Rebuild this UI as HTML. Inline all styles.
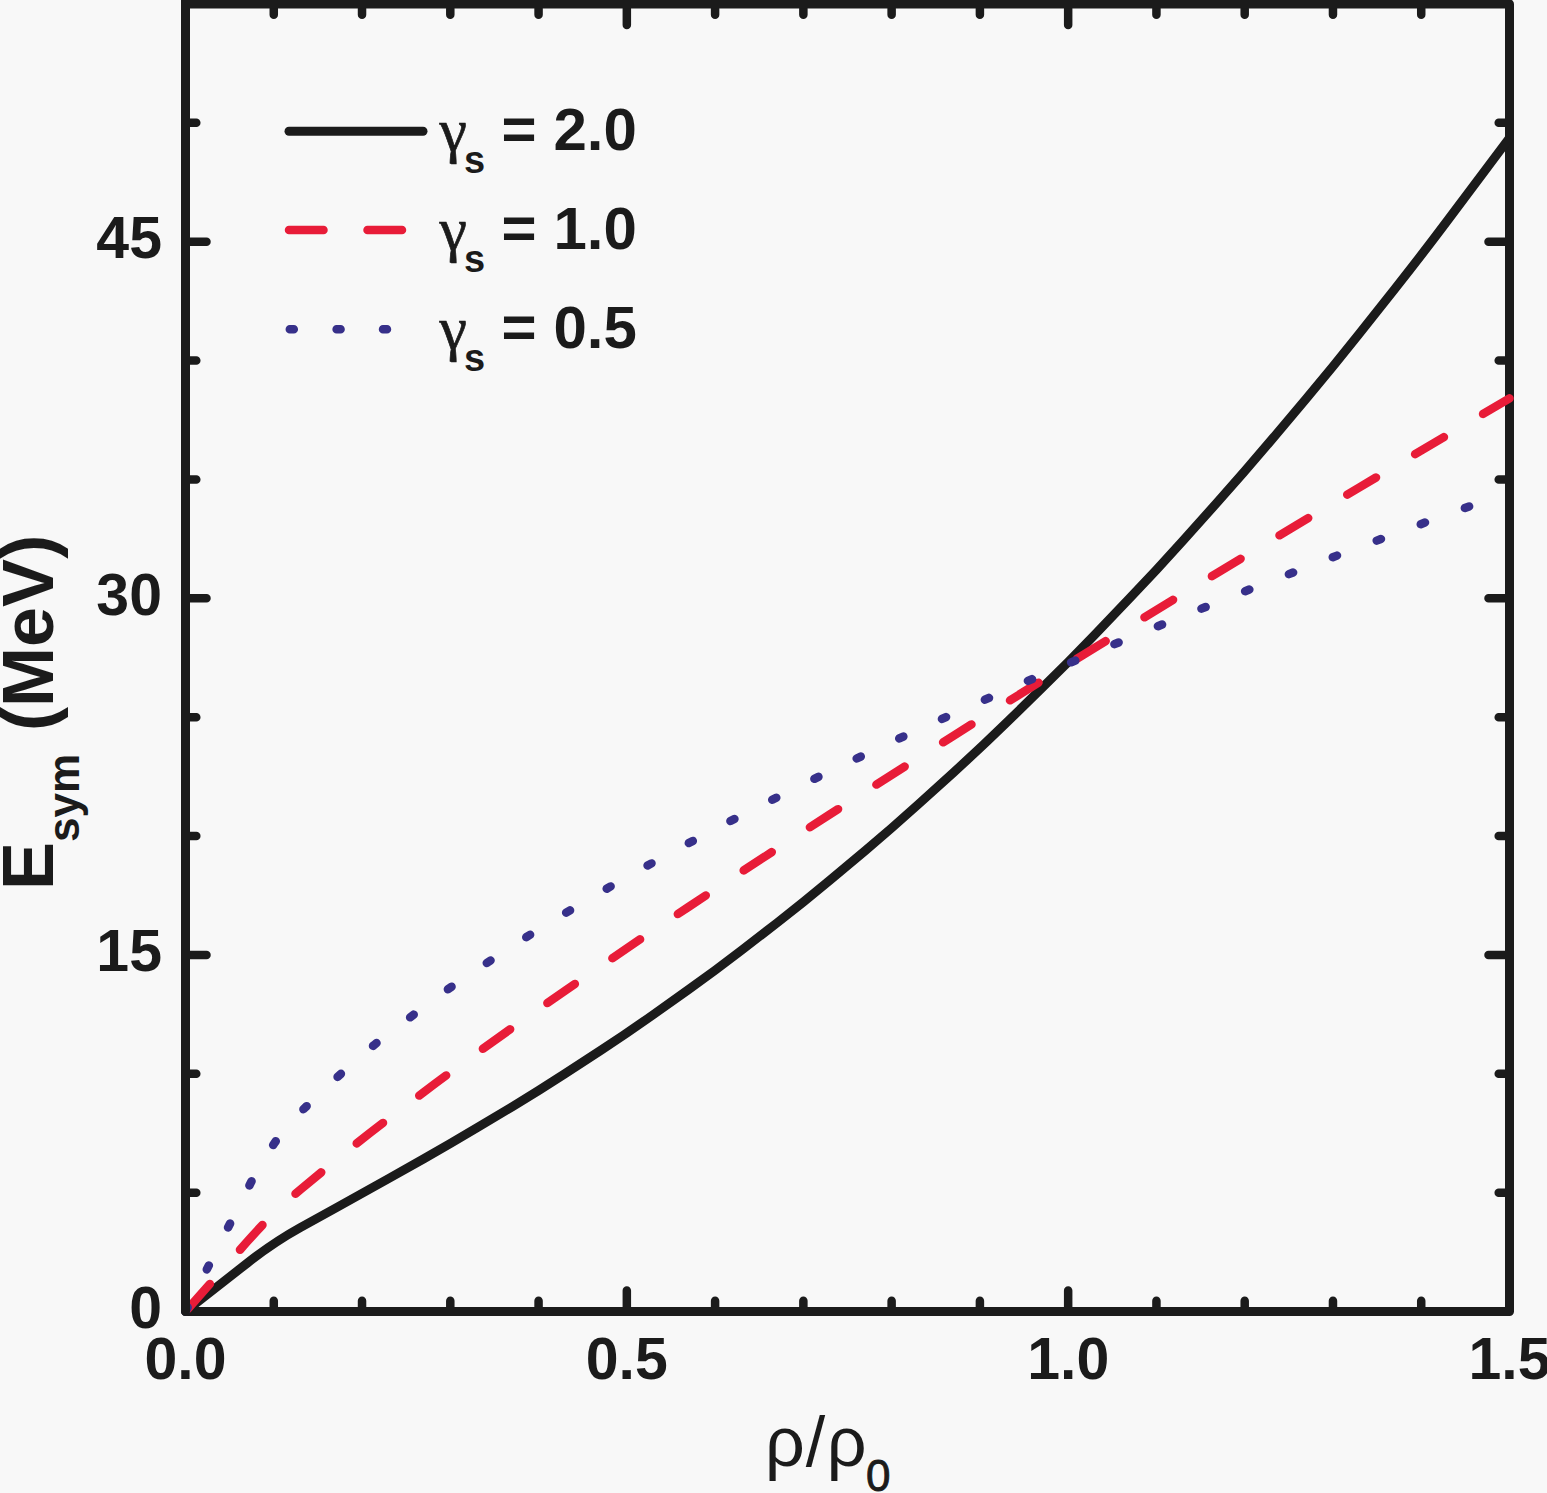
<!DOCTYPE html><html lang="en"><head><meta charset="utf-8"><title>Esym</title><style>
html,body{margin:0;padding:0;background:#f8f8f8;}
body{width:1547px;height:1493px;position:relative;overflow:hidden;font-family:"Liberation Sans",sans-serif;color:#1b1b1b;}
.t{position:absolute;white-space:nowrap;font-weight:bold;line-height:1;}
.tk{font-size:59px;}
.yl{text-align:right;width:120px;left:42px;}
.xl{text-align:center;width:200px;}
.lg{font-size:60px;left:438px;}
.lg .g{font-family:"Liberation Serif",serif;font-weight:normal;font-size:62px;-webkit-text-stroke:0.7px #1b1b1b;}
.lg sub{font-size:40px;vertical-align:baseline;position:relative;top:20px;}
</style></head><body>
<svg width="1547" height="1493" viewBox="0 0 1547 1493" style="position:absolute;left:0;top:0">
<rect width="1547" height="1493" fill="#f8f8f8"/>
<defs><clipPath id="cb"><rect x="0" y="0" width="1500" height="1493"/></clipPath></defs>
<path d="M273.77,1307.00V1300.70M273.77,8.50V14.80M362.03,1307.00V1300.70M362.03,8.50V14.80M450.30,1307.00V1300.70M450.30,8.50V14.80M538.57,1307.00V1300.70M538.57,8.50V14.80M626.83,1307.00V1290.50M626.83,8.50V25.00M715.10,1307.00V1300.70M715.10,8.50V14.80M803.37,1307.00V1300.70M803.37,8.50V14.80M891.63,1307.00V1300.70M891.63,8.50V14.80M979.90,1307.00V1300.70M979.90,8.50V14.80M1068.17,1307.00V1290.50M1068.17,8.50V25.00M1156.43,1307.00V1300.70M1156.43,8.50V14.80M1244.70,1307.00V1300.70M1244.70,8.50V14.80M1332.97,1307.00V1300.70M1332.97,8.50V14.80M1421.23,1307.00V1300.70M1421.23,8.50V14.80M190.00,1192.64H196.30M1505.00,1192.64H1498.70M190.00,1073.77H196.30M1505.00,1073.77H1498.70M190.00,954.91H206.50M1505.00,954.91H1488.50M190.00,836.05H196.30M1505.00,836.05H1498.70M190.00,717.18H196.30M1505.00,717.18H1498.70M190.00,598.32H206.50M1505.00,598.32H1488.50M190.00,479.45H196.30M1505.00,479.45H1498.70M190.00,360.59H196.30M1505.00,360.59H1498.70M190.00,241.73H206.50M1505.00,241.73H1488.50M190.00,122.86H196.30M1505.00,122.86H1498.70" stroke="#1b1b1b" stroke-width="8.5" stroke-linecap="round" fill="none"/>
<rect x="185.5" y="4.0" width="1324.0" height="1307.5" fill="none" stroke="#1b1b1b" stroke-width="9" stroke-linejoin="round"/>
<path d="M185.50,1311.50L247.29,1263.09 Q273.77,1242.35 300.25,1227.67L335.55,1208.11 Q362.03,1193.43 388.51,1178.56L423.82,1158.73 Q450.30,1143.86 476.78,1127.96L512.09,1106.77 Q538.57,1090.88 565.05,1073.62L600.35,1050.62 Q626.83,1033.36 653.31,1014.56L688.62,989.49 Q715.10,970.69 741.58,950.23L776.89,922.95 Q803.37,902.49 829.85,880.29L865.15,850.70 Q891.63,828.50 918.11,804.52L953.42,772.54 Q979.90,748.55 1006.38,722.74L1041.69,688.32 Q1068.17,662.50 1094.65,634.83L1129.95,597.93 Q1156.43,570.26 1182.91,540.70L1218.22,501.29 Q1244.70,471.73 1271.18,440.27L1306.49,398.32 Q1332.97,366.85 1359.45,333.47L1394.75,288.96 Q1421.23,255.57 1447.71,220.26L1509.50,137.85" stroke="#1b1b1b" stroke-width="9" fill="none" stroke-linejoin="round"/>
<path d="M185.50,1311.50L247.29,1241.54 Q273.77,1211.56 300.25,1189.71L335.55,1160.57 Q362.03,1138.72 388.51,1118.74L423.82,1092.10 Q450.30,1072.12 476.78,1053.18L512.09,1027.93 Q538.57,1008.99 565.05,990.75L600.35,966.43 Q626.83,948.20 653.31,930.48L688.62,906.85 Q715.10,889.13 741.58,871.82L776.89,848.73 Q803.37,831.41 829.85,814.43L865.15,791.78 Q891.63,774.79 918.11,758.08L953.42,735.80 Q979.90,719.09 1006.38,702.61L1041.69,680.65 Q1068.17,664.17 1094.65,647.90L1129.95,626.20 Q1156.43,609.93 1182.91,593.83L1218.22,572.38 Q1244.70,556.28 1271.18,540.35L1306.49,519.11 Q1332.97,503.17 1359.45,487.38L1394.75,466.33 Q1421.23,450.54 1447.71,434.88L1509.50,398.34" stroke="#e81c38" stroke-width="8.5" fill="none" stroke-linecap="round" stroke-linejoin="round" stroke-dasharray="33.5 45.5" stroke-dashoffset="-3.25"/>
<path d="M185.50,1311.50L247.29,1189.57 Q273.77,1137.31 300.25,1112.25L335.55,1078.84 Q362.03,1053.78 388.51,1033.72L423.82,1006.98 Q450.30,986.92 476.78,969.54L512.09,946.35 Q538.57,928.96 565.05,913.31L600.35,892.44 Q626.83,876.79 653.31,862.40L688.62,843.20 Q715.10,828.81 741.58,815.38L776.89,797.47 Q803.37,784.03 829.85,771.37L865.15,754.49 Q891.63,741.83 918.11,729.81L953.42,713.77 Q979.90,701.75 1006.38,690.26L1041.69,674.94 Q1068.17,663.46 1094.65,652.43L1129.95,637.73 Q1156.43,626.70 1182.91,616.08L1218.22,601.92 Q1244.70,591.29 1271.18,581.03L1306.49,567.34 Q1332.97,557.07 1359.45,547.12L1394.75,533.86 Q1421.23,523.91 1447.71,514.24L1509.50,491.69" stroke="#37308a" clip-path="url(#cb)" stroke-width="8.5" fill="none" stroke-linecap="round" stroke-linejoin="round" stroke-dasharray="4.5 42.5" stroke-dashoffset="-0.15"/>
<path d="M185.5,-0.5V1311.5" stroke="#1b1b1b" stroke-width="9" stroke-linecap="round" fill="none"/>
<path d="M289,131.2H423" stroke="#1b1b1b" stroke-width="9" stroke-linecap="round"/>
<path d="M289,230H323.5M367.5,230H402" stroke="#e81c38" stroke-width="8.5" stroke-linecap="round"/>
<path d="M289.8,329.2h4M336.6,329.2h4M383,329.2h4" stroke="#37308a" stroke-width="8.5" stroke-linecap="round"/>
</svg>
<div class="t tk yl" style="top:1279.0px">0</div>
<div class="t tk yl" style="top:922.4px">15</div>
<div class="t tk yl" style="top:565.8px">30</div>
<div class="t tk yl" style="top:209.2px">45</div>
<div class="t tk xl" style="left:85.5px;top:1330px">0.0</div>
<div class="t tk xl" style="left:526.8px;top:1330px">0.5</div>
<div class="t tk xl" style="left:968.2px;top:1330px">1.0</div>
<div class="t tk xl" style="left:1409.5px;top:1330px">1.5</div>
<div class="t lg" style="top:99.0px;left:439.5px"><span class="g">γ</span></div>
<div class="t lg" style="top:141.0px;left:464px;font-size:38px">s</div>
<div class="t lg" style="top:98.5px;left:501.5px">=</div>
<div class="t lg" style="top:99.5px;left:553.5px;font-size:60px">2.0</div>
<div class="t lg" style="top:198.0px;left:439.5px"><span class="g">γ</span></div>
<div class="t lg" style="top:240.0px;left:464px;font-size:38px">s</div>
<div class="t lg" style="top:197.5px;left:501.5px">=</div>
<div class="t lg" style="top:198.5px;left:553.5px;font-size:60px">1.0</div>
<div class="t lg" style="top:297.0px;left:439.5px"><span class="g">γ</span></div>
<div class="t lg" style="top:339.0px;left:464px;font-size:38px">s</div>
<div class="t lg" style="top:296.5px;left:501.5px">=</div>
<div class="t lg" style="top:297.5px;left:553.5px;font-size:60px">0.5</div>
<div class="t" id="ylab" style="font-size:72px;left:64px;top:889.5px;word-spacing:3px;transform-origin:0 0;transform:rotate(-90deg) translateY(-100%);">E<sub style="font-size:44px;vertical-align:baseline;position:relative;top:26px">sym</sub> (MeV)</div>
<div class="t" id="xlab" style="font-size:70px;font-weight:normal;left:765px;top:1407px;">ρ<span style="margin-left:1px">/</span><span style="margin-left:1.5px">ρ</span><sub style="font-size:44px;font-weight:normal;-webkit-text-stroke:0.9px #1b1b1b;vertical-align:baseline;position:relative;top:25px;margin-left:-0.5px">0</sub></div>
</body></html>
